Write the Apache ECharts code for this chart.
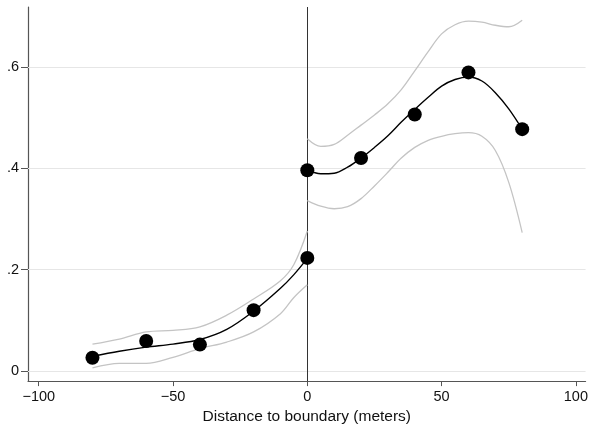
<!DOCTYPE html>
<html>
<head>
<meta charset="utf-8">
<script src="https://cdn.jsdelivr.net/npm/echarts@6/dist/echarts.min.js"></script>
<style>html,body{margin:0;padding:0;background:#fff}#c{width:591px;height:430px}</style>
</head>
<body>
<div id="c"></div>
<script>
// Binned means
const binX = [-80, -60, -40, -20, 0, 0, 20, 40, 60, 80];
const binY = [0.026, 0.059, 0.052, 0.120, 0.223, 0.396, 0.420, 0.506, 0.589, 0.477];

// Left side fit and confidence band
const leftX = [-80, -70, -60, -50, -40, -30, -20, -10, -5, 0];
const leftFit = [0.029, 0.039, 0.047, 0.053, 0.062, 0.082, 0.118, 0.163, 0.190, 0.222];
const leftUpper = [0.053, 0.063, 0.077, 0.080, 0.087, 0.110, 0.142, 0.178, 0.210, 0.276];
const leftLower = [0.006, 0.015, 0.015, 0.027, 0.044, 0.057, 0.077, 0.113, 0.145, 0.170];

// Right side fit and confidence band
const rightX = [0, 5, 10, 15, 20, 25, 30, 35, 40, 45, 50, 55, 60, 65, 70, 75, 80];
const rightFit = [0.396, 0.389, 0.390, 0.402, 0.420, 0.441, 0.464, 0.491, 0.516, 0.540, 0.562, 0.575, 0.580, 0.572, 0.549, 0.517, 0.477];
const rightUpper = [0.458, 0.443, 0.447, 0.465, 0.485, 0.505, 0.527, 0.555, 0.592, 0.630, 0.665, 0.683, 0.690, 0.688, 0.682, 0.679, 0.692];
const rightLower = [0.336, 0.325, 0.320, 0.324, 0.340, 0.365, 0.392, 0.420, 0.441, 0.455, 0.463, 0.468, 0.470, 0.463, 0.435, 0.372, 0.273];

const xTicks = [-100, -50, 0, 50, 100];
const yTicks = [0, 0.2, 0.4, 0.6];
const xTitle = 'Distance to boundary (meters)';

const pair = (xs, ys) => xs.map((x, i) => [x, ys[i]]);
const fmtY = v => v === 0 ? '0' : String(+v.toFixed(1)).replace(/^0\./, '.');
const fmtX = v => String(v).replace('-', '\u2212');

const font = 'Liberation Sans, Arial, sans-serif';
const chart = echarts.init(document.getElementById('c'), null, {renderer: 'canvas'});

const lineS = (xs, ys, color, w) => ({
  type: 'line', data: pair(xs, ys), smooth: 0.35, showSymbol: false, symbol: 'none',
  lineStyle: {color: color, width: w}, silent: true, z: 3
});

chart.setOption({
  animation: false,
  grid: {left: 28, right: 3, top: 7, bottom: 47, containLabel: false},
  xAxis: {
    type: 'value', min: -104, max: 103.6,
    axisLine: {show: true, onZero: false, lineStyle: {color: '#555', width: 1.2}},
    axisTick: {show: true, length: 5, lineStyle: {color: '#555'}, customValues: xTicks},
    axisLabel: {customValues: xTicks, formatter: fmtX, color: '#111', fontSize: 14.5, fontFamily: font, margin: 8},
    splitLine: {show: false},
    name: xTitle, nameLocation: 'middle', nameGap: 26,
    nameTextStyle: {color: '#111', fontSize: 15.5, fontFamily: font}
  },
  yAxis: {
    type: 'value', min: -0.02, max: 0.718,
    axisLine: {show: true, onZero: false, lineStyle: {color: '#555', width: 1.2}},
    axisTick: {show: true, length: 7, lineStyle: {color: '#555'}, customValues: yTicks},
    axisLabel: {customValues: yTicks, formatter: fmtY, color: '#111', fontSize: 14.5, fontFamily: font, margin: 9},
    splitLine: {show: false}
  },
  series: [
    {
      type: 'line', data: [], silent: true, z: 1,
      markLine: {
        silent: true, symbol: 'none', label: {show: false}, z: 1,
        lineStyle: {color: '#e6e6e6', width: 1, type: 'solid'},
        data: yTicks.map(v => ({yAxis: v}))
      }
    },
    {
      type: 'line', data: [], silent: true, z: 2,
      markLine: {
        silent: true, symbol: 'none', label: {show: false}, z: 2,
        lineStyle: {color: '#333', width: 1, type: 'solid'},
        data: [{xAxis: 0}]
      }
    },
    lineS(leftX, leftUpper, '#c4c4c4', 1.3),
    lineS(leftX, leftLower, '#c4c4c4', 1.3),
    lineS(rightX, rightUpper, '#c4c4c4', 1.3),
    lineS(rightX, rightLower, '#c4c4c4', 1.3),
    lineS(leftX, leftFit, '#000', 1.4),
    lineS(rightX, rightFit, '#000', 1.4),
    {
      type: 'scatter', data: pair(binX, binY), symbol: 'circle', symbolSize: 14,
      itemStyle: {color: '#000', opacity: 1}, silent: true, z: 5
    }
  ]
});
</script>
</body>
</html>
